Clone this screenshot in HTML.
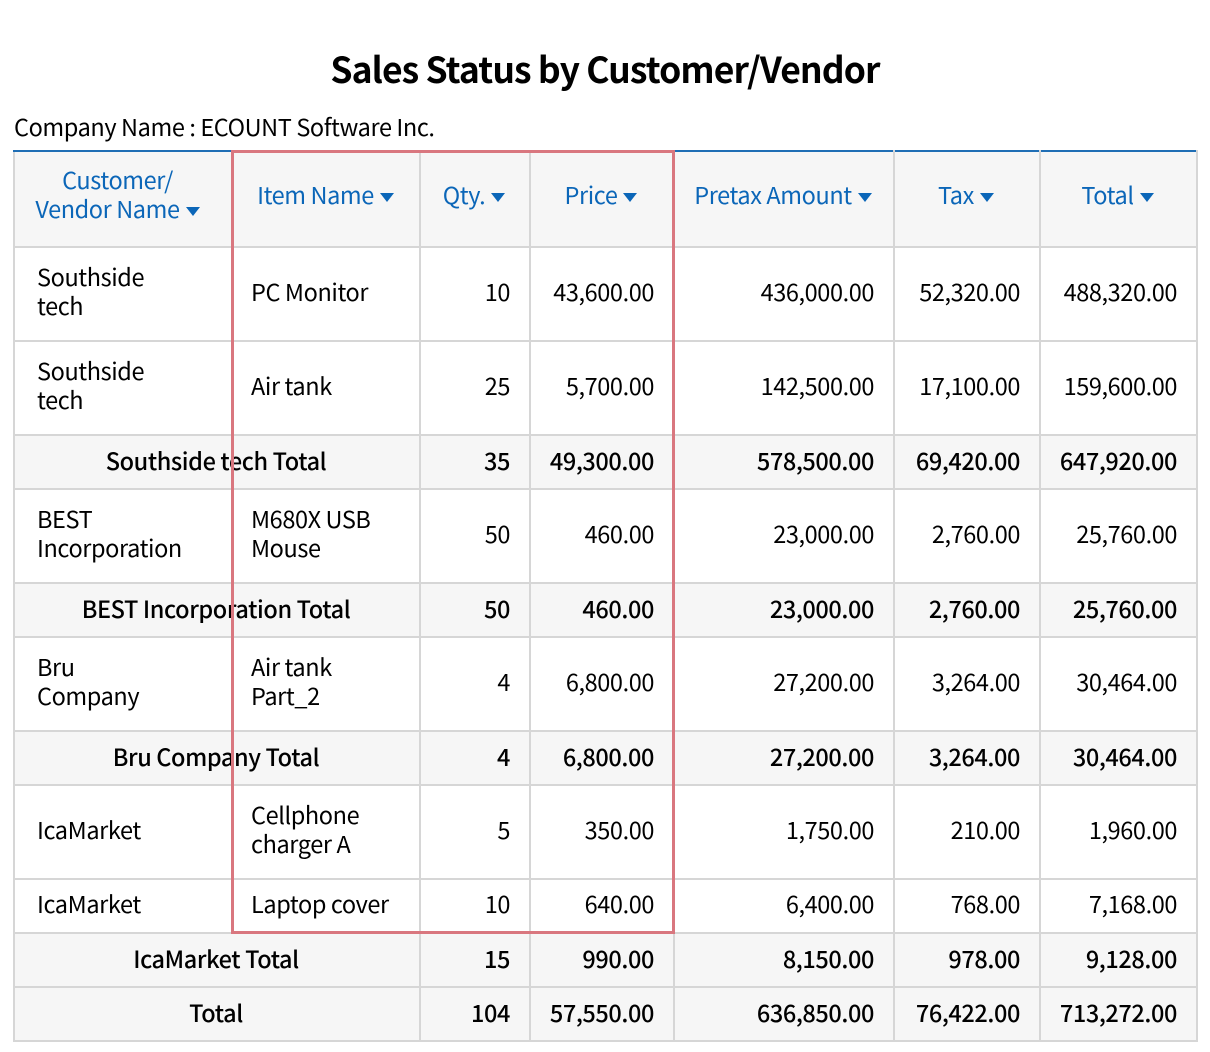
<!DOCTYPE html>
<html><head><meta charset="utf-8"><style>
body{margin:0;width:1210px;height:1052px;background:#fff;font-family:"Liberation Sans","Noto Sans CJK KR",sans-serif;position:relative;overflow:hidden}
.title{position:absolute;top:43px;left:0;width:1210px;text-align:center;font-family:"Noto Sans CJK KR",sans-serif;font-weight:bold;font-size:35.5px;color:#000;letter-spacing:-0.9px}
.co{position:absolute;top:109px;left:14px;font-family:"Noto Sans CJK KR",sans-serif;font-size:23.5px;letter-spacing:-0.4px}
table{position:absolute;top:150px;left:13px;border-collapse:collapse;table-layout:fixed;font-family:"Noto Sans CJK KR",sans-serif;font-size:23.5px;letter-spacing:-0.4px}
td,th{border:2px solid #d6d6d6;padding:0 19px 6px 17px;line-height:29px}
th{background:#f6f6f6;color:#0b66b8;font-weight:normal;text-align:center;border-top:2px solid #1f6eb5;padding-bottom:10px}
.r{text-align:right}
.sub td{background:#f6f6f6;font-weight:500;padding-bottom:4px}
.c{text-align:center}
.tri{display:inline-block;width:0;height:0;border-left:7px solid transparent;border-right:7px solid transparent;border-top:9px solid #0b66b8;margin-left:6px;vertical-align:middle}
.box{position:absolute;left:231px;top:150px;width:438px;height:778px;border:3px solid #d9777f}
</style></head><body>
<div class="title">Sales Status by Customer/Vendor</div>
<div class="co">Company Name : ECOUNT Software Inc.</div>
<table>
<colgroup><col style="width:219px"><col style="width:187px"><col style="width:110px"><col style="width:144px"><col style="width:220px"><col style="width:146px"><col style="width:157px"></colgroup>
<tr style="height:96px"><th style="padding-left:0;padding-right:12px">Customer/<br>Vendor Name<span class="tri"></span></th><th>Item Name<span class="tri"></span></th><th>Qty.<span class="tri"></span></th><th>Price<span class="tri"></span></th><th>Pretax Amount<span class="tri"></span></th><th>Tax<span class="tri"></span></th><th>Total<span class="tri"></span></th></tr>
<tr style="height:94px"><td style="padding-left:22px">Southside<br>tech</td><td>PC Monitor</td><td class="r">10</td><td class="r">43,600.00</td><td class="r">436,000.00</td><td class="r">52,320.00</td><td class="r">488,320.00</td></tr>
<tr style="height:94px"><td style="padding-left:22px">Southside<br>tech</td><td>Air tank</td><td class="r">25</td><td class="r">5,700.00</td><td class="r">142,500.00</td><td class="r">17,100.00</td><td class="r">159,600.00</td></tr>
<tr class="sub" style="height:54px"><td colspan="2" class="c">Southside tech Total</td><td class="r">35</td><td class="r">49,300.00</td><td class="r">578,500.00</td><td class="r">69,420.00</td><td class="r">647,920.00</td></tr>
<tr style="height:94px"><td style="padding-left:22px">BEST<br>Incorporation</td><td>M680X USB<br>Mouse</td><td class="r">50</td><td class="r">460.00</td><td class="r">23,000.00</td><td class="r">2,760.00</td><td class="r">25,760.00</td></tr>
<tr class="sub" style="height:54px"><td colspan="2" class="c">BEST Incorporation Total</td><td class="r">50</td><td class="r">460.00</td><td class="r">23,000.00</td><td class="r">2,760.00</td><td class="r">25,760.00</td></tr>
<tr style="height:94px"><td style="padding-left:22px">Bru<br>Company</td><td>Air tank<br>Part_2</td><td class="r">4</td><td class="r">6,800.00</td><td class="r">27,200.00</td><td class="r">3,264.00</td><td class="r">30,464.00</td></tr>
<tr class="sub" style="height:54px"><td colspan="2" class="c">Bru Company Total</td><td class="r">4</td><td class="r">6,800.00</td><td class="r">27,200.00</td><td class="r">3,264.00</td><td class="r">30,464.00</td></tr>
<tr style="height:94px"><td style="padding-left:22px">IcaMarket</td><td>Cellphone<br>charger A</td><td class="r">5</td><td class="r">350.00</td><td class="r">1,750.00</td><td class="r">210.00</td><td class="r">1,960.00</td></tr>
<tr style="height:54px"><td style="padding-left:22px">IcaMarket</td><td>Laptop cover</td><td class="r">10</td><td class="r">640.00</td><td class="r">6,400.00</td><td class="r">768.00</td><td class="r">7,168.00</td></tr>
<tr class="sub" style="height:54px"><td colspan="2" class="c">IcaMarket Total</td><td class="r">15</td><td class="r">990.00</td><td class="r">8,150.00</td><td class="r">978.00</td><td class="r">9,128.00</td></tr>
<tr class="sub" style="height:54px"><td colspan="2" class="c">Total</td><td class="r">104</td><td class="r">57,550.00</td><td class="r">636,850.00</td><td class="r">76,422.00</td><td class="r">713,272.00</td></tr>
</table>
<div class="box"></div>
</body></html>
